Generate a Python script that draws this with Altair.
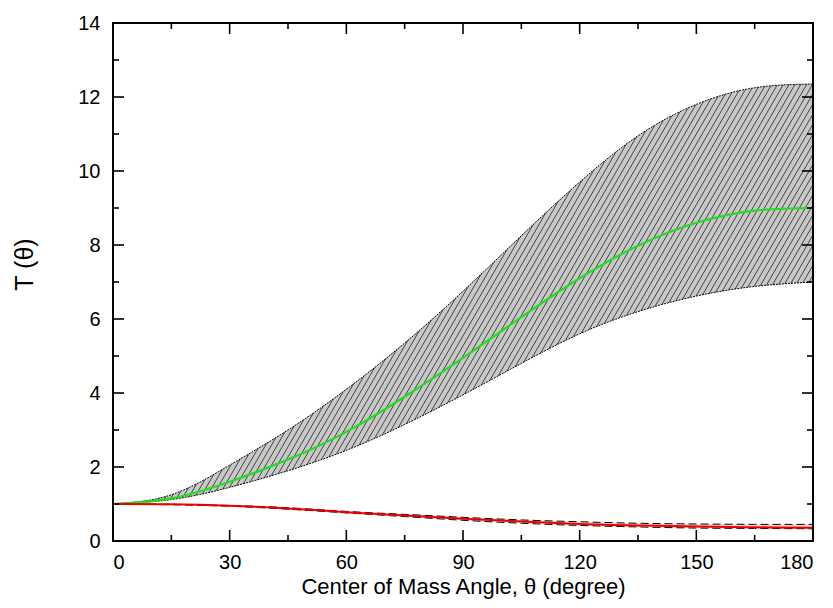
import altair as alt
import numpy as np
import pandas as pd

# ---- data ----
angle = [0, 15, 30, 45, 60, 75, 90, 105, 120, 135, 150, 165, 180]
upper = [1.0, 1.25, 2.05, 3.0, 4.1, 5.35, 6.75, 8.25, 9.7, 10.95, 11.8, 12.25, 12.35]
lower = [1.0, 1.12, 1.45, 1.9, 2.45, 3.15, 3.95, 4.8, 5.6, 6.2, 6.62, 6.88, 7.0]
green = [1.0, 1.15, 1.6, 2.2, 2.95, 3.9, 4.95, 6.05, 7.1, 7.98, 8.6, 8.93, 9.0]
red = [1.0, 0.99, 0.95, 0.88, 0.78, 0.69, 0.6, 0.53, 0.46, 0.42, 0.39, 0.37, 0.36]
red_hi = [1.0, 0.99, 0.96, 0.9, 0.8, 0.72, 0.64, 0.57, 0.52, 0.48, 0.46, 0.45, 0.45]
red_lo = [1.0, 0.98, 0.94, 0.86, 0.76, 0.66, 0.56, 0.48, 0.42, 0.38, 0.35, 0.34, 0.33]

x_major = [0, 30, 60, 90, 120, 150, 180]
x_minor = [15, 45, 75, 105, 135, 165]
y_major = [0, 2, 4, 6, 8, 10, 12, 14]
y_minor = [1, 3, 5, 7, 9, 11, 13]

df = pd.DataFrame({"angle": angle, "upper": upper, "lower": lower, "green": green,
                   "red": red, "red_hi": red_hi, "red_lo": red_lo})

# hatch pattern (decoration only)
hx = np.arange(-80, 181, 1.5)
hatch = pd.DataFrame({"hx": hx, "hx2": hx + 77, "hy": 0, "hy2": 14})

W, H = 700, 518
FONT = "Liberation Sans"

xscale = alt.Scale(domain=[0, 180], nice=False, zero=False)
yscale = alt.Scale(domain=[0, 14], nice=False, zero=False)
xaxis = alt.Axis(values=x_major, title="Center of Mass Angle, \u03b8 (degree)", domain=False,
                 ticks=False, tickSize=0, labelPadding=11, labelFontSize=20, labelFont=FONT,
                 titleFont=FONT, titleFontSize=22, titleFontWeight="normal", titlePadding=4,
                 labelColor="black", titleColor="black", grid=False)
yaxis = alt.Axis(values=y_major, title="T (\u03b8)", domain=False, ticks=False, tickSize=0,
                 labelPadding=13, labelFontSize=20, labelFont=FONT, titleFont=FONT,
                 titleFontSize=25, titleFontWeight="normal", titlePadding=40,
                 labelColor="black", titleColor="black", grid=False, titleY=241)

X = lambda f: alt.X(f, type="quantitative", scale=xscale, axis=xaxis)
Y = lambda f: alt.Y(f, type="quantitative", scale=yscale, axis=yaxis)

base = alt.Chart(df)
INTERP = "natural"

band = base.mark_area(color="#c8c8c8", interpolate=INTERP).encode(x=X("angle"), y=Y("lower"), y2="upper")
hatch_l = alt.Chart(hatch).mark_rule(color="#222222", strokeWidth=0.8, clip=True).encode(
    x=X("hx"), x2="hx2", y=Y("hy"), y2="hy2")
mask_top = base.mark_area(color="white", interpolate=INTERP, clip=True).encode(
    x=X("angle"), y=Y("upper"), y2=alt.datum(14.5))
mask_bot = base.mark_area(color="white", interpolate=INTERP, clip=True).encode(
    x=X("angle"), y=Y("lower"), y2=alt.datum(-0.5))
edge_up = base.mark_line(color="black", strokeWidth=1, strokeDash=[2, 1], interpolate=INTERP).encode(
    x=X("angle"), y=Y("upper"))
edge_lo = base.mark_line(color="black", strokeWidth=1, strokeDash=[2, 1], interpolate=INTERP).encode(
    x=X("angle"), y=Y("lower"))
green_l = base.mark_line(color="#22dd22", strokeWidth=2.2, interpolate=INTERP).encode(
    x=X("angle"), y=Y("green"))
rband = base.mark_area(color="#f0b0b0", opacity=0.6, interpolate=INTERP).encode(
    x=X("angle"), y=Y("red_lo"), y2="red_hi")
rhi = base.mark_line(color="black", strokeWidth=1, strokeDash=[8, 4], interpolate=INTERP).encode(
    x=X("angle"), y=Y("red_hi"))
rlo = base.mark_line(color="black", strokeWidth=1, strokeDash=[8, 4], interpolate=INTERP).encode(
    x=X("angle"), y=Y("red_lo"))
red_l = base.mark_line(color="#ee0000", strokeWidth=2, interpolate=INTERP).encode(
    x=X("angle"), y=Y("red"))

xmaj = pd.DataFrame({"v": x_major})
xmin = pd.DataFrame({"v": x_minor})
ymaj = pd.DataFrame({"v": y_major})
ymin = pd.DataFrame({"v": y_minor})

def xticks(d, L):
    c = alt.Chart(d).mark_rule(color="black", strokeWidth=1.6)
    return [c.encode(x=X("v"), y=alt.value(H), y2=alt.value(H - L)),
            c.encode(x=X("v"), y=alt.value(0), y2=alt.value(L))]

def yticks(d, L):
    c = alt.Chart(d).mark_rule(color="black", strokeWidth=1.6)
    return [c.encode(y=Y("v"), x=alt.value(0), x2=alt.value(L)),
            c.encode(y=Y("v"), x=alt.value(W), x2=alt.value(W - L))]

ticks = xticks(xmaj, 11) + xticks(xmin, 6) + yticks(ymaj, 11) + yticks(ymin, 6)

frame = alt.Chart(xmaj).mark_rect(fill=None, stroke="black", strokeWidth=1.6).encode(
    x=alt.value(0), x2=alt.value(W), y=alt.value(0), y2=alt.value(H))

chart = alt.layer(band, hatch_l, mask_top, mask_bot, edge_up, edge_lo, green_l,
                  rband, rhi, rlo, red_l, *ticks, frame).properties(
    width=W, height=H,
    padding={"left": 105, "top": 15, "right": 11, "bottom": 60},
    autosize=alt.AutoSizeParams(type="none"),
    background="white",
).configure_view(stroke=None)

chart.save("out.html", embed_options={"renderer": "svg", "actions": False})
